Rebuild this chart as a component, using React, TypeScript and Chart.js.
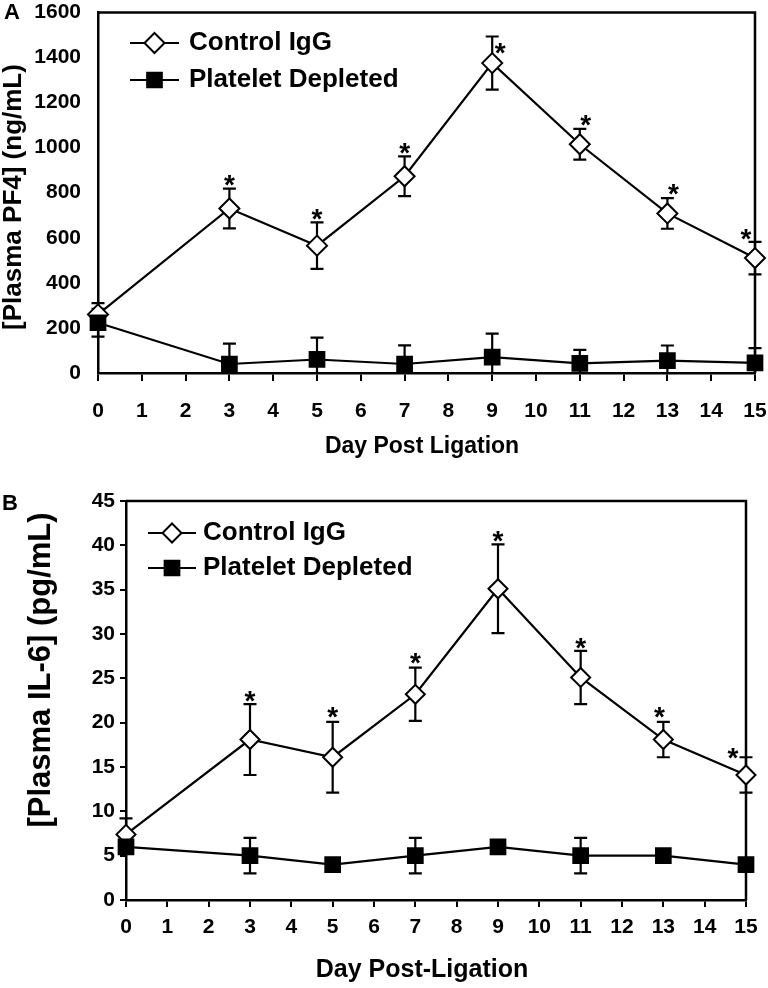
import React, { useEffect, useRef } from "react";
import { Chart, registerables } from "chart.js";

Chart.register(...registerables);

// ---------- data ----------
const days = [0, 3, 5, 7, 9, 11, 13, 15];
const seriesLabels = ["Control IgG", "Platelet Depleted"];

const pf4Control = [260, 730, 565, 873, 1375, 1015, 708, 510];
const pf4ControlErr = [50, 88, 103, 88, 118, 68, 68, 72];
const pf4Depleted = [223, 40, 60, 40, 70, 43, 55, 45];
const pf4DepletedErr = [62, 90, 97, 83, 105, 60, 67, 65];
const pf4Significant = [false, true, true, true, true, true, true, true];

const il6Control = [7.4, 18.1, 16.1, 23.2, 35.1, 25.1, 18.1, 14.1];
const il6ControlErr = [1.8, 4, 4, 3, 5, 3, 2, 2];
const il6Depleted = [6, 5, 4, 5, 6, 5, 5, 4];
const il6DepletedErr = [0.5, 2, 0.5, 2, 0.5, 2, 0.5, 0.5];
const il6Significant = [false, true, true, true, true, true, true, true];

const FONT = '"Liberation Sans", Arial, Helvetica, sans-serif';

type PanelCfg = {
  width: number;
  height: number;
  padTop: number;
  padRight: number;
  yWidth: number;
  xHeight: number;
  yMax: number;
  yStep: number;
  xTickLen: number;
  xTickPad: number;
  xTickFont: number;
  yTickLen: number;
  yTickPad: number;
  yTickFont: number;
  control: number[];
  controlErr: number[];
  depleted: number[];
  depletedErr: number[];
  significant: boolean[];
  starOffsets: number[][];
  starFont: number;
  letter: string;
  letterPos: number[];
  letterFont: number;
  yTitle: string;
  yTitlePos: number[];
  yTitleFont: number;
  xTitle: string;
  xTitlePos: number[];
  xTitleFont: number;
  legendLine: number[];
  legendTextX: number;
  legendY: number[];
  legendFont: number;
  diamondR: number;
  squareR: number;
};

const panelA: PanelCfg = {
  width: 768,
  height: 480,
  padTop: 9,
  padRight: 13,
  yWidth: 98,
  xHeight: 107,
  yMax: 1600,
  yStep: 200,
  xTickLen: 8,
  xTickPad: 18,
  xTickFont: 21,
  yTickLen: 0,
  yTickPad: 17,
  yTickFont: 21,
  control: pf4Control,
  controlErr: pf4ControlErr,
  depleted: pf4Depleted,
  depletedErr: pf4DepletedErr,
  significant: pf4Significant,
  starOffsets: [[0, -8], [0, -8], [0, -8], [0, -8], [8, 12], [6, -8], [6, -9], [-9, -7]],
  starFont: 28,
  letter: "A",
  letterPos: [12, 13],
  letterFont: 22,
  yTitle: "[Plasma PF4] (ng/mL)",
  yTitlePos: [13.5, 197],
  yTitleFont: 26,
  xTitle: "Day Post Ligation",
  xTitlePos: [422, 447],
  xTitleFont: 23,
  legendLine: [130, 179],
  legendTextX: 189,
  legendY: [43, 80],
  legendFont: 26,
  diamondR: 10,
  squareR: 10.4,
};

const panelB: PanelCfg = {
  width: 768,
  height: 508,
  padTop: 21,
  padRight: 22,
  yWidth: 126,
  xHeight: 88,
  yMax: 45,
  yStep: 5,
  xTickLen: 7,
  xTickPad: 8,
  xTickFont: 21,
  yTickLen: 6,
  yTickPad: 5,
  yTickFont: 21,
  control: il6Control,
  controlErr: il6ControlErr,
  depleted: il6Depleted,
  depletedErr: il6DepletedErr,
  significant: il6Significant,
  starOffsets: [[0, -8], [0, -8], [0, -9], [0, -9], [0, -8], [0, -7], [-4, -9], [-13, -4]],
  starFont: 28,
  letter: "B",
  letterPos: [10, 24],
  letterFont: 22,
  yTitle: "[Plasma IL-6] (pg/mL)",
  yTitlePos: [41, 190],
  yTitleFont: 31,
  xTitle: "Day Post-Ligation",
  xTitlePos: [422, 490],
  xTitleFont: 25,
  legendLine: [148, 196],
  legendTextX: 203,
  legendY: [53, 88],
  legendFont: 26,
  diamondR: 9.5,
  squareR: 10.4,
};

function drawMarker(
  ctx: CanvasRenderingContext2D,
  kind: "diamond" | "square",
  x: number,
  y: number,
  r: number
) {
  ctx.save();
  ctx.lineWidth = 2;
  ctx.strokeStyle = "#000";
  ctx.beginPath();
  if (kind === "diamond") {
    ctx.moveTo(x, y - r);
    ctx.lineTo(x + r, y);
    ctx.lineTo(x, y + r);
    ctx.lineTo(x - r, y);
    ctx.closePath();
    ctx.fillStyle = "#fff";
  } else {
    const s = Math.SQRT1_2 * r;
    ctx.rect(x - s, y - s, 2 * s, 2 * s);
    ctx.fillStyle = "#000";
  }
  ctx.fill();
  ctx.stroke();
  ctx.restore();
}

function makeDecor(cfg: PanelCfg) {
  return {
    id: "decor",
    beforeDatasetsDraw(chart: any) {
      const ctx: CanvasRenderingContext2D = chart.ctx;
      const { left, right, top, bottom } = chart.chartArea;
      const yScale = chart.scales.y;
      ctx.save();
      // frame (top + right)
      ctx.strokeStyle = "#000";
      ctx.lineWidth = 2.5;
      ctx.beginPath();
      ctx.moveTo(left, top);
      ctx.lineTo(right, top);
      ctx.lineTo(right, bottom);
      ctx.stroke();
      // error bars
      ctx.beginPath();
      ctx.rect(0, top - 2, chart.width, bottom - top + 2);
      ctx.clip();
      ctx.lineWidth = 2.2;
      const series = [
        { means: cfg.depleted, errs: cfg.depletedErr, idx: 0 },
        { means: cfg.control, errs: cfg.controlErr, idx: 1 },
      ];
      series.forEach((s) => {
        const meta = chart.getDatasetMeta(s.idx);
        meta.data.forEach((pt: any, j: number) => {
          const x = pt.x;
          const yHi = yScale.getPixelForValue(s.means[j] + s.errs[j]);
          const yLo = yScale.getPixelForValue(s.means[j] - s.errs[j]);
          ctx.beginPath();
          ctx.moveTo(x, yHi);
          ctx.lineTo(x, yLo);
          ctx.moveTo(x - 6.5, yHi);
          ctx.lineTo(x + 6.5, yHi);
          ctx.moveTo(x - 6.5, yLo);
          ctx.lineTo(x + 6.5, yLo);
          ctx.stroke();
        });
      });
      ctx.restore();
    },
    afterDraw(chart: any) {
      const ctx: CanvasRenderingContext2D = chart.ctx;
      const yScale = chart.scales.y;
      ctx.save();
      ctx.fillStyle = "#000";

      // asterisks
      ctx.font = `bold ${cfg.starFont}px ${FONT}`;
      ctx.textAlign = "center";
      ctx.textBaseline = "alphabetic";
      const m = ctx.measureText("*");
      const shift = (m.actualBoundingBoxAscent - m.actualBoundingBoxDescent) / 2;
      const meta = chart.getDatasetMeta(1);
      meta.data.forEach((pt: any, j: number) => {
        if (!cfg.significant[j]) return;
        const capY = yScale.getPixelForValue(cfg.control[j] + cfg.controlErr[j]);
        const off = cfg.starOffsets[j];
        const cx = pt.x + off[0];
        const cy = capY + off[1];
        ctx.fillText("*", cx, cy + shift);
      });

      // panel letter
      ctx.font = `bold ${cfg.letterFont}px ${FONT}`;
      ctx.textBaseline = "middle";
      ctx.textAlign = "center";
      ctx.fillText(cfg.letter, cfg.letterPos[0], cfg.letterPos[1]);

      // x title
      ctx.font = `bold ${cfg.xTitleFont}px ${FONT}`;
      ctx.fillText(cfg.xTitle, cfg.xTitlePos[0], cfg.xTitlePos[1]);

      // y title
      ctx.save();
      ctx.translate(cfg.yTitlePos[0], cfg.yTitlePos[1]);
      ctx.rotate(-Math.PI / 2);
      ctx.font = `bold ${cfg.yTitleFont}px ${FONT}`;
      ctx.fillText(cfg.yTitle, 0, 0);
      ctx.restore();

      // legend
      const [lx0, lx1] = cfg.legendLine;
      const kinds: ("diamond" | "square")[] = ["diamond", "square"];
      kinds.forEach((k, i) => {
        const y = cfg.legendY[i];
        ctx.strokeStyle = "#000";
        ctx.lineWidth = 2.2;
        ctx.beginPath();
        ctx.moveTo(lx0, y);
        ctx.lineTo(lx1, y);
        ctx.stroke();
        drawMarker(ctx, k, (lx0 + lx1) / 2, y, k === "diamond" ? cfg.diamondR : cfg.squareR);
        ctx.fillStyle = "#000";
        ctx.font = `bold ${cfg.legendFont}px ${FONT}`;
        ctx.textAlign = "left";
        ctx.textBaseline = "middle";
        ctx.fillText(seriesLabels[i], cfg.legendTextX, y);
      });
      ctx.restore();
    },
  };
}

function Panel({ cfg }: { cfg: PanelCfg }) {
  const ref = useRef<HTMLCanvasElement>(null);
  useEffect(() => {
    const canvas = ref.current;
    if (!canvas) return;
    const chart = new Chart(canvas, {
      type: "line",
      data: {
        datasets: [
          {
            label: seriesLabels[1],
            data: days.map((d, i) => ({ x: d, y: cfg.depleted[i] })),
            borderColor: "#000",
            borderWidth: 2.2,
            pointStyle: "rect",
            pointRadius: cfg.squareR,
            pointBackgroundColor: "#000",
            pointBorderColor: "#000",
            pointBorderWidth: 2,
            tension: 0,
            clip: false,
          } as any,
          {
            label: seriesLabels[0],
            data: days.map((d, i) => ({ x: d, y: cfg.control[i] })),
            borderColor: "#000",
            borderWidth: 2.2,
            pointStyle: "rectRot",
            pointRadius: cfg.diamondR,
            pointBackgroundColor: "#fff",
            pointBorderColor: "#000",
            pointBorderWidth: 2,
            tension: 0,
            clip: false,
          } as any,
        ],
      },
      options: {
        responsive: false,
        animation: false,
        events: [],
        layout: { padding: { left: 0, top: cfg.padTop, right: cfg.padRight, bottom: 0 } },
        plugins: { legend: { display: false }, tooltip: { enabled: false } },
        scales: {
          x: {
            type: "linear",
            min: 0,
            max: 15,
            afterFit: (s: any) => {
              s.height = cfg.xHeight;
              s.paddingLeft = 0;
              s.paddingRight = 0;
            },
            ticks: {
              stepSize: 1,
              autoSkip: false,
              maxRotation: 0,
              color: "#000",
              padding: cfg.xTickPad,
              font: { family: FONT, size: cfg.xTickFont, weight: "bold" },
              callback: (v: any) => String(v),
            },
            grid: {
              display: true,
              drawOnChartArea: false,
              drawTicks: true,
              tickLength: cfg.xTickLen,
              color: "#000",
              lineWidth: 2,
            },
            border: { display: true, color: "#000", width: 2.5 },
          },
          y: {
            type: "linear",
            min: 0,
            max: cfg.yMax,
            afterFit: (s: any) => {
              s.width = cfg.yWidth;
              s.paddingTop = 0;
              s.paddingBottom = 0;
            },
            ticks: {
              stepSize: cfg.yStep,
              color: "#000",
              padding: cfg.yTickPad,
              font: { family: FONT, size: cfg.yTickFont, weight: "bold" },
              callback: (v: any) => String(v),
            },
            grid: {
              display: cfg.yTickLen > 0,
              drawOnChartArea: false,
              drawTicks: true,
              tickLength: cfg.yTickLen,
              color: "#000",
              lineWidth: 2,
            },
            border: { display: true, color: "#000", width: 2.5 },
          },
        },
      } as any,
      plugins: [makeDecor(cfg) as any],
    });
    return () => chart.destroy();
  }, [cfg]);
  return (
    <canvas
      ref={ref}
      width={cfg.width}
      height={cfg.height}
      style={{ display: "block", width: cfg.width, height: cfg.height }}
    />
  );
}

export default function App() {
  useEffect(() => {
    document.body.style.margin = "0";
    document.body.style.background = "#fff";
  }, []);
  return (
    <div style={{ width: 768, height: 988, background: "#fff", overflow: "hidden" }}>
      <Panel cfg={panelA} />
      <Panel cfg={panelB} />
    </div>
  );
}
